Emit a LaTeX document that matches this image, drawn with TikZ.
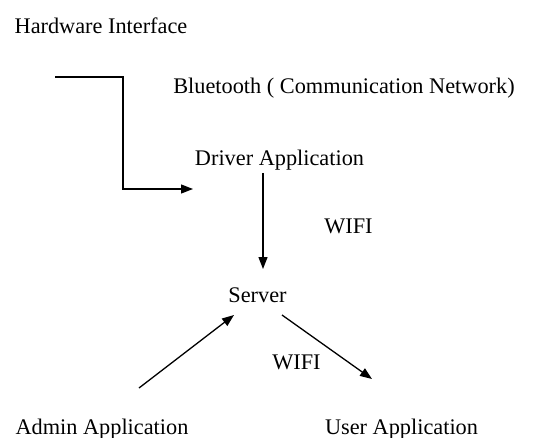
\documentclass[tikz,border=0pt]{standalone}
\usepackage{fontspec}
\setmainfont{Liberation Serif}
\usetikzlibrary{arrows.meta}
\begin{document}
\begin{tikzpicture}[x=1pt,y=-1pt,
  lbl/.style={inner sep=0pt,anchor=center,font=\fontsize{22.3}{25}\selectfont},
  conn/.style={line width=1.3pt,-{Triangle[length=12pt,width=9pt]}}]
\useasboundingbox (0,0) rectangle (553,438);
\node[lbl] (hw) at (101,26) {Hardware Interface};
\node[lbl] (bt) at (344,88) {Bluetooth ( Communication Network)};
\node[lbl] (drv) at (279.5,160) {Driver Application};
\node[lbl] (wifi1) at (348.5,226) {WIFI};
\node[lbl] (srv) at (257.5,295) {Server};
\node[lbl] (wifi2) at (296.5,362) {WIFI};
\node[lbl] (adm) at (102,429) {Admin Application};
\node[lbl] (usr) at (401.5,429) {User Application};
\coordinate (hwout) at (55,77);
\coordinate (drvin) at (193,189);
\coordinate (drvout) at (263,173);
\coordinate (srvin) at (263,269);
\coordinate (admout) at (139,388);
\coordinate (srvadm) at (234,315);
\coordinate (srvout) at (282,315);
\coordinate (usrin) at (372,379);
\draw[conn] (hwout) -- (123,77) |- (drvin);
\draw[conn] (drvout) -- (srvin);
\draw[conn] (admout) -- (srvadm);
\draw[conn] (srvout) -- (usrin);
\end{tikzpicture}
\end{document}
